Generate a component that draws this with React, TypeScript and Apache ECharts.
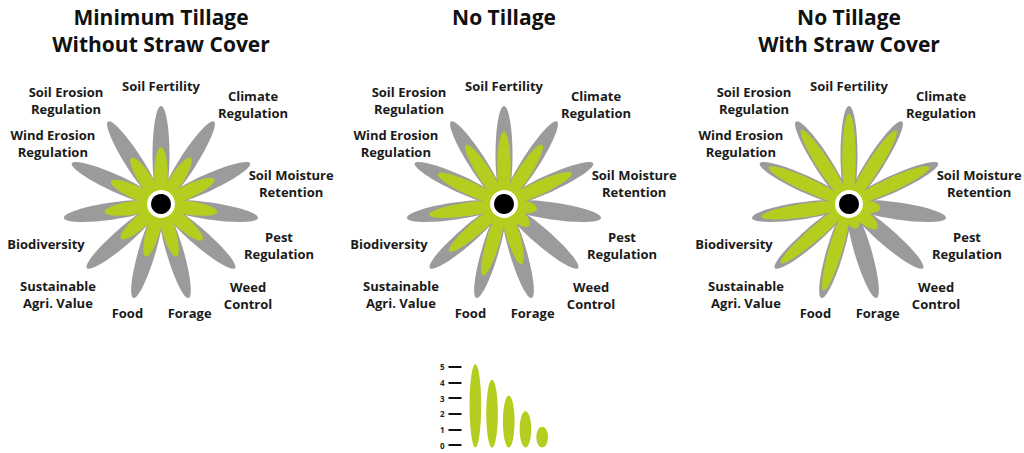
import React, { useEffect, useRef } from 'react';
import * as echarts from 'echarts';

// ---------- data ----------
const categories = [
  'Soil Fertility',
  'Climate\nRegulation',
  'Soil Moisture\nRetention',
  'Pest\nRegulation',
  'Weed\nControl',
  'Forage',
  'Food',
  'Sustainable\nAgri. Value',
  'Biodiversity',
  'Wind Erosion\nRegulation',
  'Soil Erosion\nRegulation',
];
const panelTitles = ['Minimum Tillage\nWithout Straw Cover', 'No Tillage', 'No Tillage\nWith Straw Cover'];
const minTillageNoStraw = [2.9, 2.8, 3.0, 2.9, 2.8, 2.8, 2.8, 2.7, 2.9, 2.8, 2.8];
const noTillage = [3.7, 3.6, 3.8, 1.7, 1.7, 3.2, 3.8, 3.7, 3.85, 3.7, 3.6];
const noTillageStraw = [4.6, 4.45, 4.5, 1.6, 1.9, 1.3, 4.6, 4.6, 4.5, 4.5, 4.5];
const scaleMax = 5;
const legendValues = [5, 4, 3, 2, 1];

// ---------- layout / style ----------
const GREY = '#9b9b9b';
const GREEN = '#b5cd1f';
const TEXT = '#1a1a1a';
const FONT = "'Open Sans', 'Noto Sans', sans-serif";
const centersX = [161, 504, 849];
const centerY = 204;
const petalReach = 98;
// label offsets from each petal tip (pixels)
const labelNudge: [number, number][] = [
  [0, -20], [39, -17], [41, 20], [21, 28], [13, 27], [1, 15],
  [-6, 15], [-29, 26], [-18, 26], [-19, -20], [-42, -21],
];

function petalRenderer(widthPx: number, color: string) {
  return (params: any, api: any) => {
    const v = api.value(0);
    const idx = api.value(1);
    const c = api.coord([0, idx]);
    const t = api.coord([v, idx]);
    const dx = t[0] - c[0];
    const dy = t[1] - c[1];
    const len = Math.hypot(dx, dy);
    return {
      type: 'ellipse',
      x: (c[0] + t[0]) / 2,
      y: (c[1] + t[1]) / 2,
      rotation: -Math.atan2(dy, dx),
      shape: { cx: 0, cy: 0, rx: len / 2, ry: widthPx / 2 },
      style: { fill: color },
    };
  };
}

function centerRenderer(params: any, api: any) {
  const c = api.coord([0, 0]);
  return {
    type: 'group',
    children: [
      { type: 'circle', shape: { cx: c[0], cy: c[1], r: 14 }, style: { fill: '#ffffff' } },
      { type: 'circle', shape: { cx: c[0], cy: c[1], r: 10 }, style: { fill: '#000000' } },
    ],
  };
}

function labelRenderer(params: any, api: any) {
  const idx = api.value(1);
  const t = api.coord([api.value(0), idx]);
  const n = labelNudge[idx];
  return {
    type: 'text',
    x: t[0] + n[0],
    y: t[1] + n[1],
    style: {
      text: categories[idx],
      fill: TEXT,
      fontSize: 13,
      fontWeight: 'bold',
      fontFamily: FONT,
      lineHeight: 17,
      align: 'center',
      verticalAlign: 'middle',
    },
  };
}

function legendRenderer(params: any, api: any) {
  const i = api.value(0);
  const base = api.coord([i, 0]);
  const top = api.coord([i, api.value(1)]);
  const pad = 2.5;
  const h = base[1] - top[1] + 2 * pad;
  return {
    type: 'ellipse',
    shape: { cx: base[0], cy: (base[1] + top[1]) / 2, rx: 5.8, ry: h / 2 },
    style: { fill: GREEN },
  };
}

export default function App() {
  const ref = useRef<HTMLDivElement>(null);
  useEffect(() => {
    if (!ref.current) return;
    const chart = echarts.init(ref.current, null, { renderer: 'svg' });
    const flowers = [minTillageNoStraw, noTillage, noTillageStraw];
    const hiddenAxis = {
      axisLine: { show: false },
      axisTick: { show: false },
      axisLabel: { show: false },
      splitLine: { show: false },
      splitArea: { show: false },
    };
    const series: any[] = [];
    flowers.forEach((vals, k) => {
      series.push({
        type: 'custom',
        coordinateSystem: 'polar',
        polarIndex: k,
        renderItem: petalRenderer(17, GREY),
        data: categories.map((_, i) => [scaleMax, i]),
        silent: true,
      });
      series.push({
        type: 'custom',
        coordinateSystem: 'polar',
        polarIndex: k,
        renderItem: petalRenderer(13.5, GREEN),
        data: vals.map((v, i) => [v, i]),
        silent: true,
      });
      series.push({
        type: 'custom',
        coordinateSystem: 'polar',
        polarIndex: k,
        renderItem: centerRenderer,
        data: [[0, 0]],
        silent: true,
      });
      series.push({
        type: 'custom',
        coordinateSystem: 'polar',
        polarIndex: k,
        renderItem: labelRenderer,
        data: categories.map((_, i) => [scaleMax, i]),
        silent: true,
      });
    });
    series.push({
      type: 'custom',
      xAxisIndex: 0,
      yAxisIndex: 0,
      renderItem: legendRenderer,
      data: legendValues.map((v, i) => [i, v]),
      silent: true,
    });

    chart.setOption({
      animation: false,
      backgroundColor: '#ffffff',
      title: panelTitles.map((t, k) => ({
        text: t,
        left: centersX[k],
        top: 3,
        textAlign: 'center',
        padding: 0,
        textStyle: {
          fontSize: 21,
          fontWeight: 'bold',
          fontFamily: FONT,
          color: '#111111',
          lineHeight: 27,
        },
      })),
      polar: centersX.map((cx) => ({ center: [cx, centerY], radius: [0, petalReach] })),
      angleAxis: centersX.map((_, k) => ({
        polarIndex: k,
        type: 'category',
        data: categories,
        startAngle: 90,
        clockwise: true,
        boundaryGap: false,
        ...hiddenAxis,
      })),
      radiusAxis: centersX.map((_, k) => ({
        polarIndex: k,
        type: 'value',
        min: 0,
        max: scaleMax,
        ...hiddenAxis,
      })),
      grid: { left: 467, top: 366.7, width: 83.5, height: 78.3 },
      xAxis: {
        type: 'category',
        data: legendValues.map(String),
        show: false,
      },
      yAxis: {
        type: 'value',
        min: 0,
        max: scaleMax,
        interval: 1,
        offset: 5.5,
        axisLine: { show: false },
        axisTick: { show: true, inside: false, length: 13, lineStyle: { color: '#111111', width: 2 } },
        axisLabel: { margin: 17, fontSize: 8, fontWeight: 'bold', color: '#222222', fontFamily: FONT },
        splitLine: { show: false },
      },
      series,
    });
    return () => chart.dispose();
  }, []);
  return (
    <div
      ref={ref}
      style={{ position: 'absolute', left: 0, top: 0, width: 1024, height: 453 }}
    />
  );
}
